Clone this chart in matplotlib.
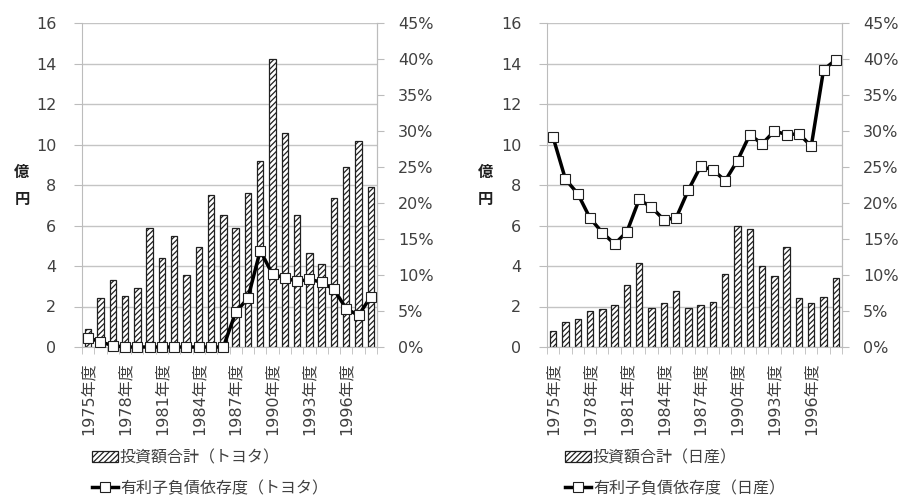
import matplotlib
matplotlib.use("Agg")
import matplotlib.pyplot as plt
from matplotlib.ticker import PercentFormatter, MultipleLocator, FixedLocator
from matplotlib.patches import Patch
from matplotlib.lines import Line2D

plt.rcParams['font.family'] = ['DejaVu Sans', 'Noto Sans CJK JP']
plt.rcParams['hatch.linewidth'] = 0.9

years = list(range(1975, 1999))
year_labels = [f"{y}年度" for y in years]

# 投資額合計（億円）
toyota_invest = [0.9, 2.4, 3.3, 2.5, 2.9, 5.9, 4.4, 5.5, 3.55, 4.95, 7.5, 6.5,
                 5.9, 7.6, 9.2, 14.2, 10.55, 6.5, 4.65, 4.1, 7.35, 8.9, 10.15, 7.9]
nissan_invest = [0.78, 1.22, 1.4, 1.78, 1.88, 2.05, 3.04, 4.13, 1.95, 2.18, 2.77, 1.95,
                 2.08, 2.21, 3.6, 6.0, 5.81, 3.99, 3.53, 4.92, 2.44, 2.15, 2.48, 3.42]

# 有利子負債依存度（%）
toyota_debt = [1.3, 0.7, 0.2, 0.0, 0.0, 0.0, 0.0, 0.0, 0.0, 0.0, 0.0, 0.0,
               4.8, 6.8, 13.4, 10.1, 9.6, 9.1, 9.4, 9.0, 8.0, 5.3, 4.4, 7.0]
nissan_debt = [29.1, 23.3, 21.3, 17.9, 15.9, 14.3, 16.0, 20.5, 19.4, 17.7, 17.9, 21.8,
               25.1, 24.6, 23.1, 25.9, 29.5, 28.2, 30.0, 29.5, 29.6, 27.9, 38.5, 39.9]

companies = ["トヨタ", "日産"]
invest_series = [toyota_invest, nissan_invest]
debt_series = [toyota_debt, nissan_debt]

FS = 11.5
TEXT = "#404040"
GRID = "#c4c4c4"
SPINE = "#bcbcbc"
BAR_EDGE = "#202020"

fig = plt.figure(figsize=(9.01, 4.98), dpi=100)
axes_lefts = [82 / 901, 547 / 901]
legend_x = [92 / 901, 565 / 901]
ylabel_x = [22 / 901, 485 / 901]

for i in range(2):
    ax = fig.add_axes([axes_lefts[i], 1 - 347 / 498, 295 / 901, 324 / 498])
    x = list(range(len(years)))
    ax.bar(x, invest_series[i], width=0.52, facecolor="white", edgecolor=BAR_EDGE,
           linewidth=0.9, hatch="//////", zorder=2)
    ax.set_xlim(-0.5, len(years) - 0.5)
    ax.set_ylim(0, 16)
    ax.yaxis.set_major_locator(MultipleLocator(2))
    ax.grid(axis="y", color=GRID, linewidth=1.0, zorder=0)
    ax.set_axisbelow(True)
    ax.set_xticks(x[::3])
    ax.set_xticklabels(year_labels[::3], rotation=90, fontsize=FS, va="top",
                       ha="center", color=TEXT)
    ax.xaxis.set_minor_locator(FixedLocator([k - 0.5 for k in range(len(years) + 1)]))
    ax.tick_params(axis="x", which="major", length=0, pad=11)
    ax.tick_params(axis="x", which="minor", length=5, color=SPINE, direction="out")
    ax.tick_params(axis="y", length=6, color=SPINE, labelsize=FS, labelcolor=TEXT, pad=12.5)
    ax.spines["top"].set_visible(False)
    for s in ["left", "right", "bottom"]:
        ax.spines[s].set_color(SPINE)

    ax2 = ax.twinx()
    ax2.plot(x, debt_series[i], color="black", linewidth=2.5, marker="s",
             markersize=7, markerfacecolor="white", markeredgecolor="#202020",
             markeredgewidth=0.8, zorder=3, clip_on=False)
    ax2.set_ylim(0, 45)
    ax2.yaxis.set_major_locator(MultipleLocator(5))
    ax2.yaxis.set_major_formatter(PercentFormatter(decimals=0))
    ax2.tick_params(axis="y", length=5, color=SPINE, labelsize=FS, labelcolor=TEXT, pad=10)
    for s in ["top", "left", "bottom"]:
        ax2.spines[s].set_visible(False)
    ax2.spines["right"].set_color(SPINE)

    fig.text(ylabel_x[i], 1 - 186 / 498, "億\n円", fontsize=FS - 0.5, fontweight="bold",
             ha="center", va="center", linespacing=2.0, color="#202020")

    handles = [
        Patch(facecolor="white", edgecolor=BAR_EDGE, hatch="//////", linewidth=0.9),
        Line2D([0], [0], color="black", linewidth=2.5, marker="s", markersize=7,
               markerfacecolor="white", markeredgecolor="#202020", markeredgewidth=0.8),
    ]
    labels = [f"投資額合計（{companies[i]}）", f"有利子負債依存度（{companies[i]}）"]
    leg = fig.legend(handles, labels, loc="upper left",
                     bbox_to_anchor=(legend_x[i], 1 - 450 / 498),
                     bbox_transform=fig.transFigure, frameon=False, fontsize=FS,
                     handlelength=1.6, handletextpad=0.15, labelspacing=0.95,
                     borderpad=0, borderaxespad=0)
    for t in leg.get_texts():
        t.set_color(TEXT)

fig.savefig("out.png", dpi=100)
